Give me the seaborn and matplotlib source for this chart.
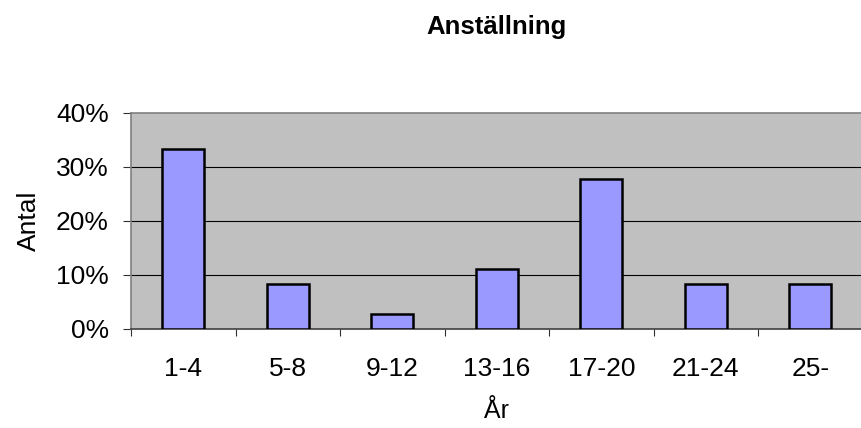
"""Anställning: share of respondents per years-of-employment bracket."""
import matplotlib
matplotlib.use("Agg")
import matplotlib.pyplot as plt
import numpy as np
import pandas as pd
import seaborn as sns
from matplotlib.ticker import FixedLocator, PercentFormatter

YEARS = ["1-4", "5-8", "9-12", "13-16", "17-20", "21-24", "25-"]
SHARE = [33.3, 8.3, 2.8, 11.1, 27.8, 8.3, 8.3]  # percent
Y_TICKS = [0, 10, 20, 30, 40]

BG = "#C0C0C0"
BAR = "#9999FF"

sns.set_style("white")
plt.rcParams["font.family"] = ["Liberation Sans", "DejaVu Sans"]
plt.rcParams["font.size"] = 18
plt.rcParams["text.color"] = "black"
plt.rcParams["axes.labelcolor"] = "black"
plt.rcParams["xtick.labelcolor"] = "black"
plt.rcParams["ytick.labelcolor"] = "black"

df = pd.DataFrame({"year": YEARS, "share": SHARE})

fig = plt.figure(figsize=(8.61, 4.28), dpi=100)
ax = fig.add_axes([131 / 861, 99 / 428, 731.5 / 861, 216 / 428])
ax.set_facecolor(BG)

sns.barplot(data=df, x="year", y="share", color=BAR, width=0.4,
            edgecolor="black", linewidth=1.8, saturation=1, ax=ax, zorder=3)

ax.set_xlim(-0.5, len(YEARS) - 0.5)
ax.set_ylim(0, 40)
ax.yaxis.set_major_locator(FixedLocator(Y_TICKS))
ax.yaxis.set_major_formatter(PercentFormatter(xmax=100, decimals=0))
for y in Y_TICKS[1:-1]:
    ax.axhline(y, color="black", linewidth=0.8, zorder=1)

# category boundaries get the tick marks, labels sit in the middle
ax.xaxis.set_minor_locator(FixedLocator(np.arange(-0.5, len(YEARS), 1.0)))
ax.tick_params(axis="x", which="major", length=0, pad=20, labelsize=19)
ax.tick_params(axis="x", which="minor", length=5, width=0.8,
               direction="out", color="#303030", bottom=True)
ax.tick_params(axis="y", length=6, width=0.8, direction="out",
               color="#303030", pad=10, labelsize=19, left=True)

for side in ["top", "left"]:
    ax.spines[side].set_color("#808080")
    ax.spines[side].set_linewidth(1.2)
ax.spines["bottom"].set_color("#404040")
ax.spines["bottom"].set_linewidth(1.2)
ax.spines["right"].set_visible(False)

ax.set_xlabel("År", fontsize=18, labelpad=13)
ax.set_ylabel("Antal", fontsize=19, labelpad=11)
ax.set_title("Anställning", fontsize=18.5, fontweight="bold", pad=57)

fig.savefig("out.png", dpi=100)
